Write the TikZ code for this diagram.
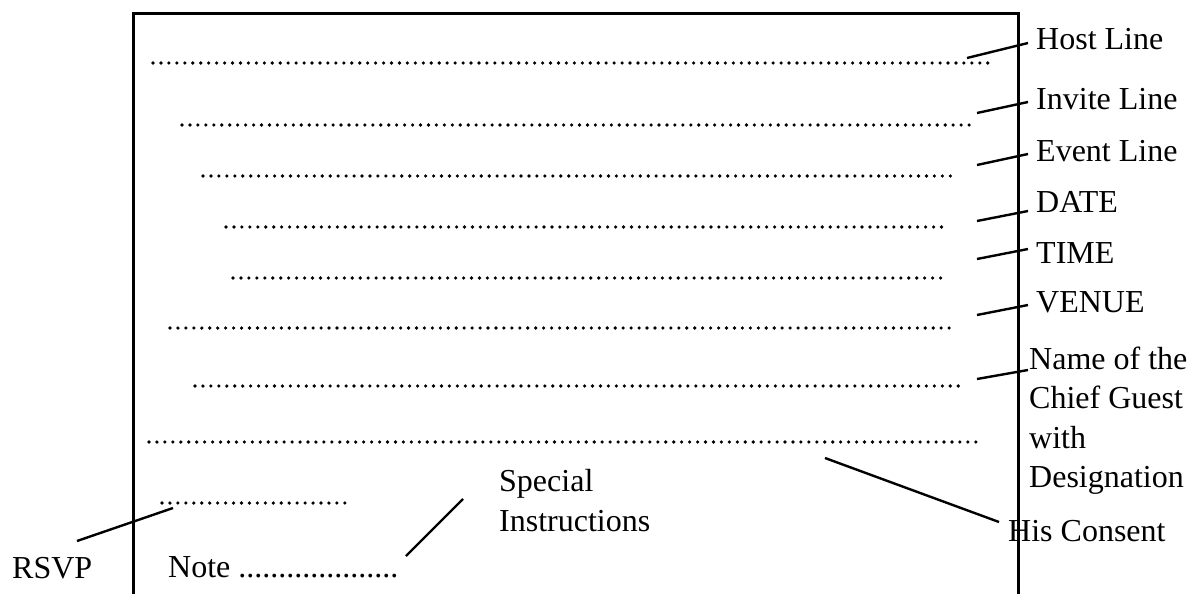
\documentclass[tikz,border=0pt]{standalone}
\usepackage{fontspec}
\setmainfont{Liberation Serif}
\begin{document}
\begin{tikzpicture}[x=1pt,y=-1pt,
 lbl/.style={anchor=base west,inner sep=0pt,font=\fontsize{32}{39.3}\selectfont},
 dotline/.style={line width=3.6pt,line cap=round,dash pattern=on 0pt off 7.95pt},
 lead/.style={line width=2.4pt},
 frame/.style={line width=3pt}]
\useasboundingbox (0,0) rectangle (1194,594);
% frame
\coordinate (fbl) at (133,594);
\coordinate (ftl) at (133,14);
\coordinate (ftr) at (1018,14);
\coordinate (fbr) at (1018,594);
\draw[frame] (fbl) -- (ftl) -- (ftr) -- (fbr);
% dotted lines
\coordinate (d1a) at (153,63);  \coordinate (d1b) at (988,63);
\coordinate (d2a) at (182,125); \coordinate (d2b) at (974,125);
\coordinate (d3a) at (203,176); \coordinate (d3b) at (956,176);
\coordinate (d4a) at (226,227); \coordinate (d4b) at (947,227);
\coordinate (d5a) at (233,278); \coordinate (d5b) at (947,278);
\coordinate (d6a) at (170,328); \coordinate (d6b) at (956,328);
\coordinate (d7a) at (195,386); \coordinate (d7b) at (965,386);
\coordinate (d8a) at (149,442); \coordinate (d8b) at (983,442);
\coordinate (d9a) at (162,503); \coordinate (d9b) at (347,503);
\foreach \i in {1,...,9} {\draw[dotline] (d\i a) -- (d\i b);}
% labels
\node[lbl] (host) at (1036,49) {Host Line};
\node[lbl] (invite) at (1036,110) {Invite Line};
\node[lbl] (event) at (1036,161) {Event Line};
\node[lbl] (date) at (1036,212) {DATE};
\node[lbl] (time) at (1036,263) {TIME};
\node[lbl] (venue) at (1036,312) {VENUE};
\node[lbl] (name1) at (1029,369) {Name of the};
\node[lbl] (name2) at (1029,408) {Chief Guest};
\node[lbl] (name3) at (1029,448) {with};
\node[lbl] (name4) at (1029,487) {Designation};
\node[lbl] (consent) at (1008,541) {His Consent};
\node[lbl] (special1) at (499,491) {Special};
\node[lbl] (special2) at (499,531) {Instructions};
\node[lbl] (rsvp) at (12,578) {RSVP};
\node[lbl] (note) at (168,577) {Note ....................};
% leader lines
\coordinate (l1a) at (967,58);  \coordinate (l1b) at (1028,43);
\coordinate (l2a) at (977,113); \coordinate (l2b) at (1028,102);
\coordinate (l3a) at (977,165); \coordinate (l3b) at (1028,154);
\coordinate (l4a) at (977,221); \coordinate (l4b) at (1028,211);
\coordinate (l5a) at (977,259); \coordinate (l5b) at (1028,249);
\coordinate (l6a) at (977,315); \coordinate (l6b) at (1028,305);
\coordinate (l7a) at (977,379); \coordinate (l7b) at (1028,370);
\coordinate (l8a) at (825,458); \coordinate (l8b) at (999,522);
\coordinate (l9a) at (77,541);  \coordinate (l9b) at (173,508);
\coordinate (l10a) at (406,556); \coordinate (l10b) at (463,499);
\foreach \i in {1,...,10} {\draw[lead] (l\i a) -- (l\i b);}
\end{tikzpicture}
\end{document}
